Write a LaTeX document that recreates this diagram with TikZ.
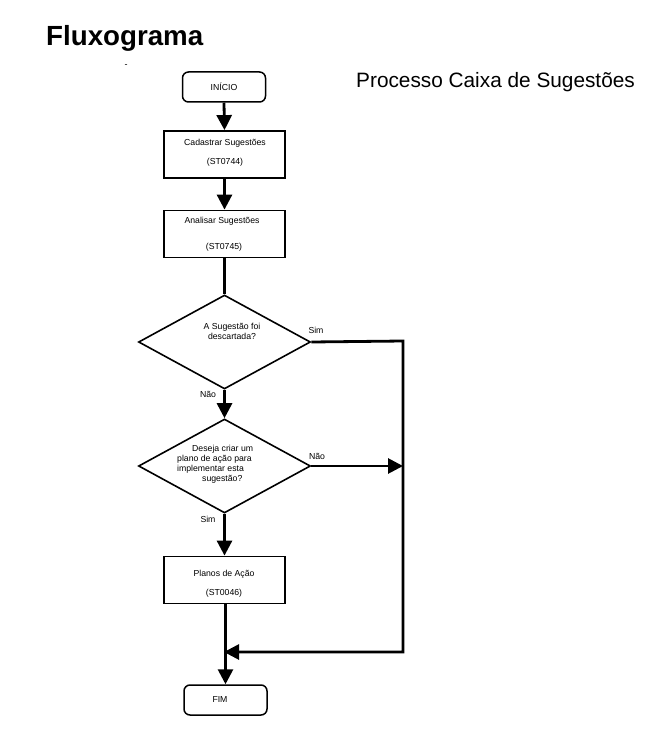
\documentclass[tikz,border=0pt]{standalone}
\usepackage{fontspec}
\setmainfont{Liberation Sans}
\usetikzlibrary{arrows.meta,shapes.geometric}
\begin{document}
\begin{tikzpicture}[x=1pt,y=-1pt,
  box/.style={draw,line width=1.8pt,minimum width=121pt,minimum height=47pt,inner sep=0pt},
  term/.style={draw,line width=1.5pt,rounded corners=6pt,minimum width=83pt,minimum height=30pt,inner sep=0pt},
  dia/.style={draw,diamond,line width=1.6pt,minimum width=172pt,minimum height=94pt,inner sep=0pt},
  small/.style={font=\fontsize{8.7}{10}\selectfont,inner sep=0pt},
  conn/.style={line width=2.8pt,line join=miter},
  arr/.style={line width=2.8pt,-{Triangle[width=15pt,length=15pt]}},
  lbl/.style={font=\fontsize{8.7}{10}\selectfont,inner sep=0pt}]
\useasboundingbox (0,0) rectangle (660,733);
\node[anchor=west,inner sep=0pt,font=\fontsize{27.7}{30}\selectfont\bfseries] (title) at (46,38) {Fluxograma};
\node[anchor=west,inner sep=0pt,font=\fontsize{20.8}{24}\selectfont] (proc) at (356,82) {Processo Caixa de Sugestões};
\node[inner sep=0pt,font=\fontsize{9}{10}\selectfont] (dash) at (126,66) {-};
% nodes
\node[term] (ini) at (224,87) {};
\node[small] (initxt) at (224,87) {INÍCIO};
\node[box] (cad) at (224.5,154.5) {};
\node[small] (cad1) at (225,143) {Cadastrar Sugestões};
\node[small] (cad2) at (225,162) {(ST0744)};
\node[box] (ana) at (224.5,234) {};
\node[small] (ana1) at (222,221) {Analisar Sugestões};
\node[small] (ana2) at (224,247) {(ST0745)};
\node[dia] (d1) at (224.5,342) {};
\node[small,align=center] (d1t) at (232,331) {A Sugestão foi\\descartada?};
\node[dia] (d2) at (224.5,466) {};
\node[small,align=left,anchor=north west] (d2t) at (177,445) {\hspace*{15pt}Deseja criar um\\plano de ação para\\implementar esta\\\hspace*{25pt}sugestão?};
\node[box] (pla) at (224.5,580) {};
\node[small] (pla1) at (224,574) {Planos de Ação};
\node[small] (pla2) at (224,593) {(ST0046)};
\node[term] (fim) at (225.5,700) {};
\node[small] (fimtxt) at (220,699) {FIM};
% labels
\node[lbl] (sim1) at (316,330) {Sim};
\node[lbl] (nao1) at (208,394) {Não};
\node[lbl] (nao2) at (317,456) {Não};
\node[lbl] (sim2) at (208,519) {Sim};
% coordinates
\coordinate (r1) at (403,341);
\coordinate (r2) at (403,466);
\coordinate (r3) at (403,652);
\coordinate (j) at (224,652);
% connectors
\draw[arr] (ini.south) -- (cad.north);
\draw[arr] (cad.south) -- (ana.north);
\draw[conn] (ana.south) -- (d1.north);
\draw[arr] (d1.south) -- (d2.north);
\draw[arr] (d2.south) -- (pla.north);
\draw[arr] (d1.east) -- (r1) -- (r3) -- (j);
\draw[arr] (d2.east) -- (r2);
\draw[arr] (pla.south -| fim.north) -- (fim.north);
\end{tikzpicture}
\end{document}
